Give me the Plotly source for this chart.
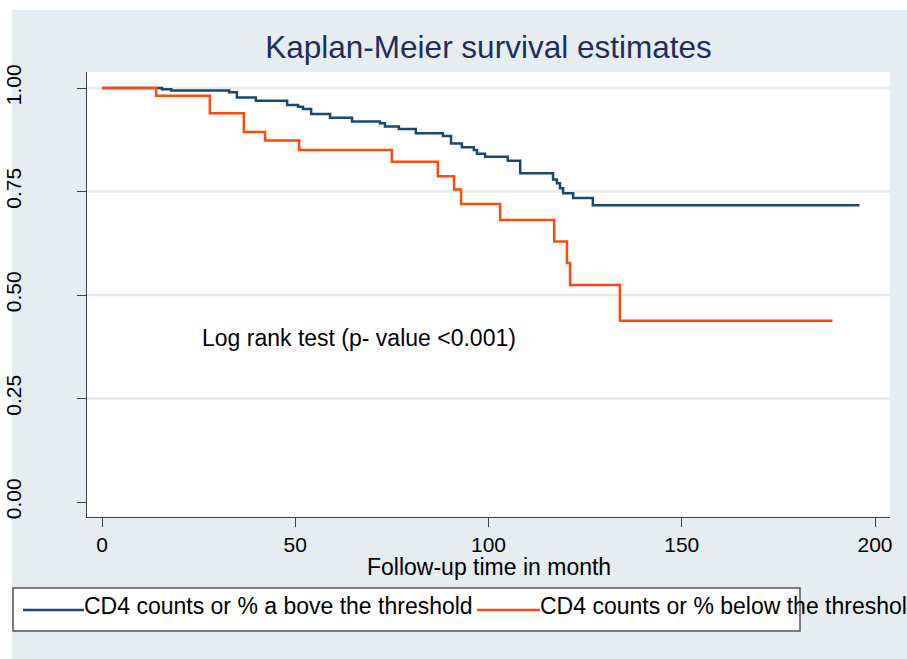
import plotly.graph_objects as go

# ---------------- data ----------------
series_names = ["CD4 counts or % a bove the threshold",
                "CD4 counts or % below the threshold"]

above_times = [0, 15.5, 17.9, 32.9, 34.9, 39.8, 47.9, 50.7, 52.0, 54.1, 59.0,
               64.7, 71.9, 73.2, 76.8, 81.2, 88.2, 90.3, 93.1, 96.2, 97.0,
               99.1, 105.0, 108.2, 116.7, 117.7, 118.5, 119.3, 121.9, 127.0]
above_surv = [1.0, 0.997, 0.994, 0.990, 0.977, 0.969, 0.959, 0.955, 0.949, 0.937, 0.928,
              0.919, 0.915, 0.907, 0.901, 0.891, 0.884, 0.866, 0.857, 0.850, 0.841,
              0.834, 0.824, 0.794, 0.779, 0.770, 0.758, 0.746, 0.734, 0.717]
above_end = 196.0

below_times = [0, 14.0, 27.9, 36.7, 42.2, 51.0, 75.0, 86.9, 91.1, 92.9,
               103.0, 117.0, 120.3, 121.1, 134.0]
below_surv = [1.0, 0.981, 0.939, 0.894, 0.873, 0.850, 0.822, 0.787, 0.755, 0.720,
              0.681, 0.629, 0.577, 0.524, 0.438]
below_end = 189.0

x_ticks = [0, 50, 100, 150, 200]
y_ticks = [0, 0.25, 0.5, 0.75, 1.0]
y_tick_labels = ["0.00", "0.25", "0.50", "0.75", "1.00"]
grid_vals = [0.25, 0.5, 0.75, 1.0]

title_text = "Kaplan-Meier survival estimates"
x_title = "Follow-up time in month"
note_text = "Log rank test (p- value <0.001)"
note_x, note_y = 25.4, 0.396

# ---------------- style ----------------
W, H = 907, 659
ML, MR, MT, MB = 87, 17, 72, 142
PW, PH = W - ML - MR, H - MT - MB
FONT = "Liberation Sans, Arial, sans-serif"
BG = "#E5EDF1"
GRID = "#E3EBEF"
BLUE = "#1A476F"
ORANGE = "#FF4A0F"
AXIS = "#404040"


def pxx(px):
    return (px - ML) / PW


def pxy(py):
    return (H - MB - py) / PH


fig = go.Figure()
for name, t, s, end, col in [(series_names[0], above_times, above_surv, above_end, BLUE),
                             (series_names[1], below_times, below_surv, below_end, ORANGE)]:
    fig.add_trace(go.Scatter(x=list(t) + [end], y=list(s) + [s[-1]], mode="lines",
                             line=dict(color=col, width=2.5, shape="hv"),
                             name=name, showlegend=False, hoverinfo="skip"))

shapes = [
    # grey graph region
    dict(type="rect", xref="paper", yref="paper", x0=pxx(12), x1=pxx(W + 5),
         y0=pxy(H + 5), y1=pxy(10), fillcolor=BG, line=dict(width=0), layer="below"),
    # white plot region
    dict(type="rect", xref="paper", yref="paper", x0=0, x1=1, y0=0, y1=1,
         fillcolor="white", line=dict(width=0), layer="below"),
]
for g in grid_vals:
    shapes.append(dict(type="line", xref="paper", yref="y", x0=0, x1=1, y0=g, y1=g,
                       line=dict(color=GRID, width=2.5), layer="below"))

# custom legend
shapes.append(dict(type="rect", xref="paper", yref="paper", x0=pxx(13), x1=pxx(800),
                   y0=pxy(631), y1=pxy(588), fillcolor="white",
                   line=dict(color="#555555", width=1.5), layer="above"))
leg_items = [(23, 84, BLUE, series_names[0]), (477, 540, ORANGE, series_names[1])]
annotations = []
for x0, x1, col, name in leg_items:
    shapes.append(dict(type="line", xref="paper", yref="paper", x0=pxx(x0), x1=pxx(x1),
                       y0=pxy(610), y1=pxy(610), line=dict(color=col, width=2.5),
                       layer="above"))
    annotations.append(dict(xref="paper", yref="paper", x=pxx(x1 - 2), y=pxy(606),
                            xanchor="left", yanchor="middle", text=name, showarrow=False,
                            font=dict(family=FONT, size=23, color="black")))

annotations.append(dict(xref="x", yref="y", x=note_x, y=note_y, xanchor="left",
                        yanchor="middle", text=note_text, showarrow=False,
                        font=dict(family=FONT, size=23, color="black")))
annotations.append(dict(xref="paper", yref="paper", x=0.5, y=pxy(567), xanchor="center",
                        yanchor="middle", text=x_title, showarrow=False,
                        font=dict(family=FONT, size=23, color="black")))

fig.update_layout(
    width=W, height=H,
    margin=dict(l=ML, r=MR, t=MT, b=MB, pad=0, autoexpand=False),
    paper_bgcolor="white", plot_bgcolor="white",
    title=dict(text=title_text, x=0.5, xref="paper", xanchor="center",
               y=1 - 47 / H, yref="container", yanchor="middle",
               font=dict(family=FONT, size=31.5, color="#1E2D5A")),
    font=dict(family=FONT, size=21, color="black"),
    shapes=shapes, annotations=annotations, showlegend=False,
)
fig.update_xaxes(range=[(ML - 102) / 3.865, (W - MR - 102) / 3.865],
                 tickvals=x_ticks, ticks="outside", ticklen=9, tickcolor=AXIS,
                 showline=True, linecolor=AXIS, linewidth=1.2, showgrid=False,
                 zeroline=False, tickfont=dict(size=21), ticklabelstandoff=0,
                 automargin=False)
fig.update_yaxes(range=[(502 - (H - MB)) / 414, (502 - MT) / 414],
                 tickvals=y_ticks, ticktext=y_tick_labels, ticks="outside", ticklen=9,
                 tickcolor=AXIS, showline=True, linecolor=AXIS, linewidth=1.2,
                 showgrid=False, zeroline=False, tickangle=-90,
                 tickfont=dict(size=21), ticklabelstandoff=48, automargin=False)

fig.write_html("out.html", config={"displayModeBar": False},
               post_script="document.body.style.margin='0';"
                           "document.body.style.overflow='hidden';")
